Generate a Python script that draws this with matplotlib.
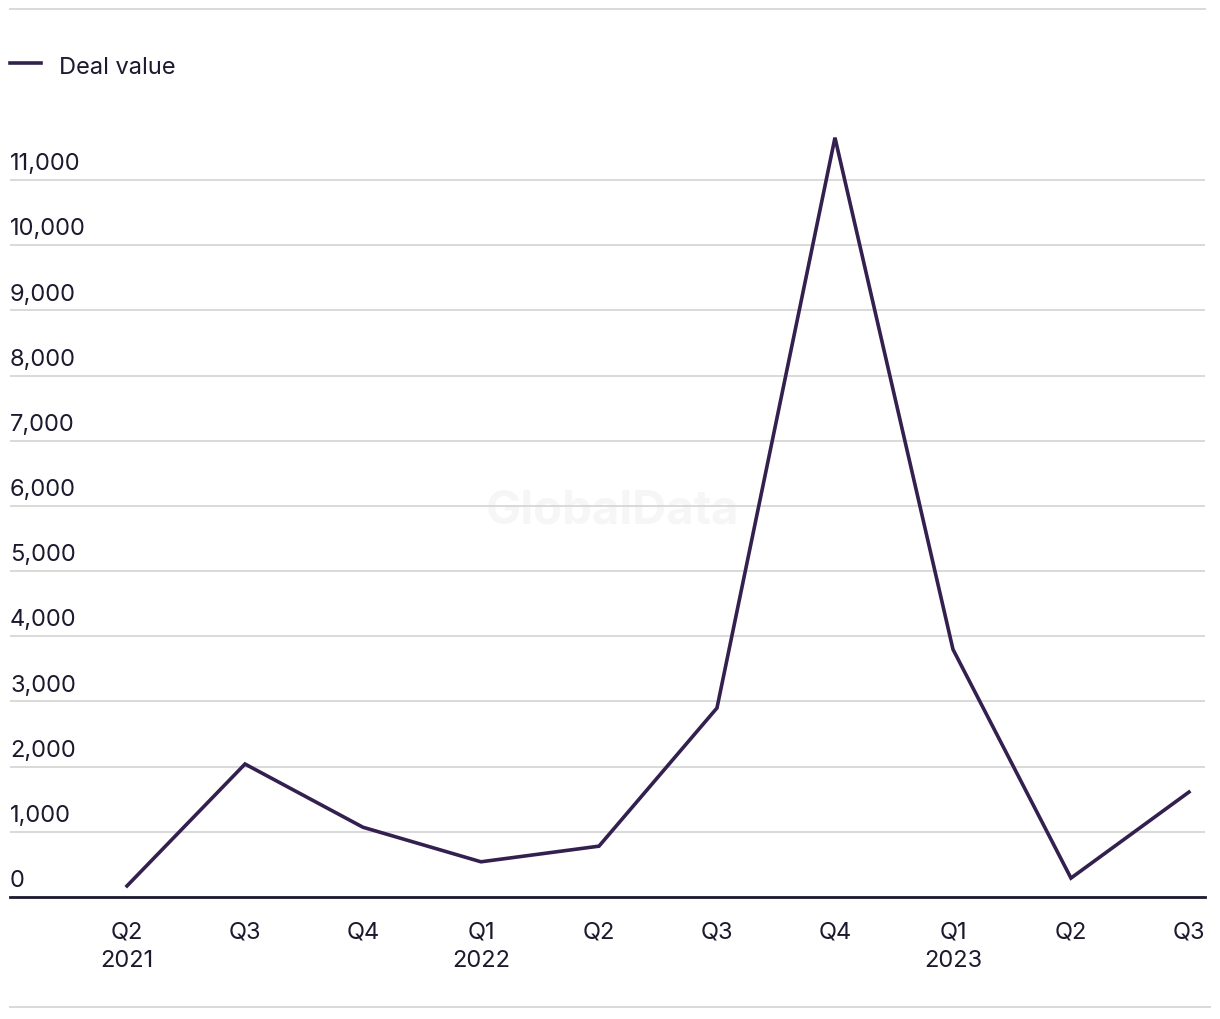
import matplotlib
matplotlib.use("Agg")
import matplotlib.pyplot as plt
from matplotlib.lines import Line2D

plt.rcParams['font.family'] = ['Inter', 'DejaVu Sans']

# Dados
quarters = ['Q2\n2021', 'Q3', 'Q4', 'Q1\n2022', 'Q2', 'Q3', 'Q4', 'Q1\n2023', 'Q2', 'Q3']
deal_value = [170, 2040, 1070, 540, 780, 2900, 11650, 3800, 290, 1610]
y_ticks = [0, 1000, 2000, 3000, 4000, 5000, 6000, 7000, 8000, 9000, 10000, 11000]

line_color = '#33204f'
text_color = '#1b1a2e'
grid_color = '#d9d9d9'

fig = plt.figure(figsize=(12.2, 10.2), dpi=100)
ax = fig.add_axes([10 / 1220, 1 - 898 / 1020, 1195 / 1220, (898 - 135.4) / 1020])

x = list(range(len(quarters)))
ax.plot(x, deal_value, color=line_color, lw=2.6, solid_joinstyle='miter', zorder=3)

ax.set_xlim(-0.9915, 9.136)
ax.set_ylim(0, 11700)

# grades horizontais
for v in y_ticks[1:]:
    ax.axhline(v, color=grid_color, lw=1.4, zorder=1)
ax.axhline(0, color=text_color, lw=2, zorder=2, clip_on=False)

# rótulos do eixo y acima das linhas
for v in y_ticks:
    ax.text(0, v + 90, f'{v:,}', transform=ax.get_yaxis_transform(),
            ha='left', va='bottom', fontsize=17, color=text_color)

ax.set_yticks([])
ax.set_xticks(x)
ax.set_xticklabels(quarters, fontsize=17, color=text_color, linespacing=1.35)
ax.tick_params(axis='x', length=0, pad=17)
for s in ax.spines.values():
    s.set_visible(False)

# marca d'água
ax.text(0.504, 1 - (511 - 135.4) / (898 - 135.4), 'GlobalData', transform=ax.transAxes,
        ha='center', va='center', fontsize=34, fontweight='bold', color='#f6f6f6', zorder=0)

# legenda
fig.add_artist(Line2D([10 / 1220, 41 / 1220], [1 - 64 / 1020] * 2, color=line_color, lw=2.6))
fig.text(59 / 1220, 1 - 68 / 1020, 'Deal value', ha='left', va='center', fontsize=17, color=text_color)

# linhas de topo e base
fig.add_artist(Line2D([10 / 1220, 1205 / 1220], [1 - 10 / 1020] * 2, color=grid_color, lw=1.4))
fig.add_artist(Line2D([10 / 1220, 1210 / 1220], [1 - 1008 / 1020] * 2, color=grid_color, lw=1.4))

fig.savefig('out.png', dpi=100)
